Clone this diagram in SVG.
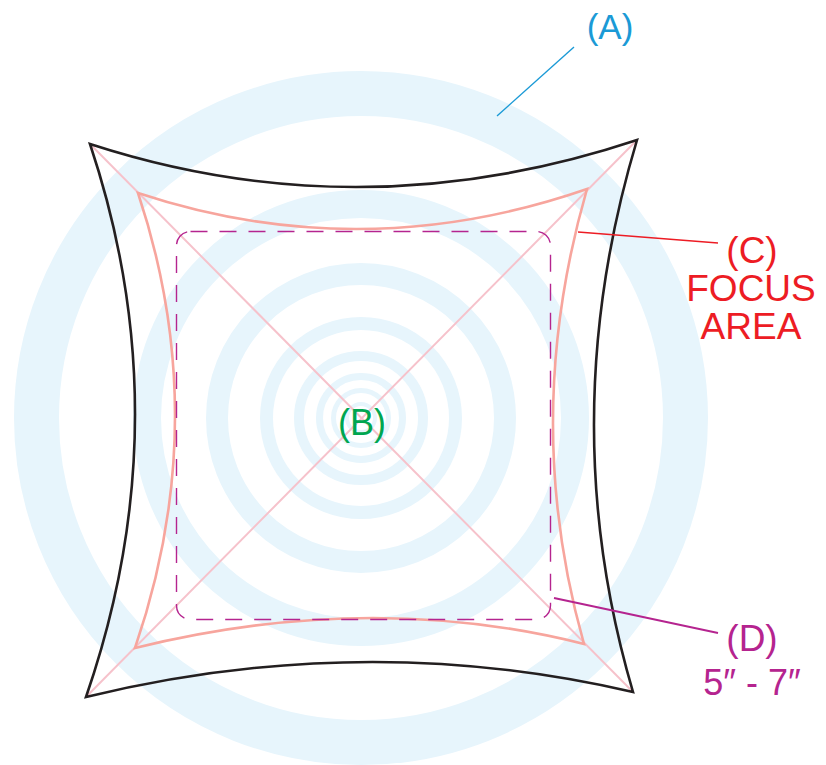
<svg xmlns="http://www.w3.org/2000/svg" width="826" height="765" viewBox="0 0 826 765">
<style>
.ring{fill:none;stroke:#e7f5fc}
.lbl{font-family:"Liberation Sans",Arial,sans-serif;text-anchor:middle}
.black{fill:none;stroke:#231f20;stroke-width:2.6;stroke-linejoin:miter}
.salmon{fill:none;stroke:#f7a59d;stroke-width:2.6;stroke-linejoin:miter}
.diag{stroke:#f6c2cb;stroke-width:2}
.dash{fill:none;stroke:#b5248f;stroke-width:1.4;stroke-dasharray:17 12}
</style>
<rect width="826" height="765" fill="#ffffff"/>
<g id="rings">
<circle class="ring" cx="361" cy="418" r="324.5" stroke-width="45"/>
<circle class="ring" cx="361" cy="418" r="214" stroke-width="28"/>
<circle class="ring" cx="361" cy="418" r="144" stroke-width="22"/>
<circle class="ring" cx="361" cy="418" r="94.5" stroke-width="13"/>
<circle class="ring" cx="361" cy="418" r="62" stroke-width="10"/>
<circle class="ring" cx="361" cy="418" r="41.5" stroke-width="7"/>
<circle class="ring" cx="361" cy="418" r="27.5" stroke-width="5"/>
<circle class="ring" cx="361" cy="418" r="14" stroke-width="4"/>
</g>
<g id="diagonals">
<line class="diag" x1="90" y1="144" x2="633" y2="692"/>
<line class="diag" x1="637" y1="140" x2="86" y2="697"/>
</g>
<g id="focus-area">
<path class="salmon" d="M138,193 Q361.5,267 587,189 Q520.5,419.5 584,644 Q370.5,590 135,648 Q213.5,419.5 138,193 Z"/>
</g>
<g id="size-box">
<rect class="dash" x="176.5" y="231.5" width="374" height="388" rx="14" ry="14"/>
</g>
<g id="pillow">
<path class="black" d="M90,144 Q360.5,232 637,140 Q553,420 633,692 Q364.5,629.5 86,697 Q182,419.5 90,144 Z"/>
</g>
<g id="connectors">
<line x1="497" y1="116" x2="574" y2="47" stroke="#1b9ad6" stroke-width="1.4"/>
<line x1="578" y1="232" x2="718" y2="243" stroke="#ed1c24" stroke-width="1.4"/>
<line x1="554" y1="598" x2="718" y2="633" stroke="#b5248f" stroke-width="1.8"/>
</g>
<g id="label-A">
<text class="lbl" x="610" y="39" font-size="35" fill="#1b9ad6">(A)</text>
</g>
<g id="label-B">
<text class="lbl" x="362" y="435" font-size="36" fill="#00a650">(B)</text>
</g>
<g id="label-C">
<text class="lbl" x="752" y="263" font-size="37" fill="#ed1c24">(C)</text>
<text class="lbl" x="751" y="301" font-size="37" fill="#ed1c24">FOCUS</text>
<text class="lbl" x="751" y="339" font-size="37" fill="#ed1c24">AREA</text>
</g>
<g id="label-D">
<text class="lbl" x="752" y="651" font-size="37" fill="#b5248f">(D)</text>
<text class="lbl" x="752" y="695" font-size="36" fill="#b5248f">5″ - 7″</text>
</g>
</svg>
